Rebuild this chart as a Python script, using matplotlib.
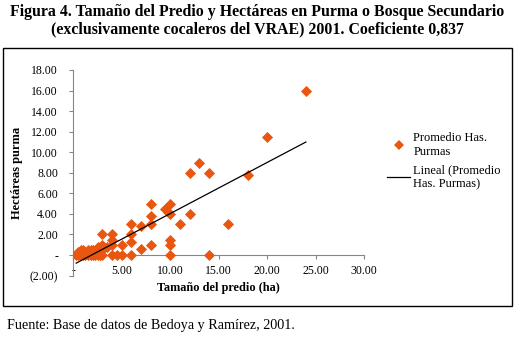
import numpy as np
import matplotlib
matplotlib.use("Agg")
import matplotlib.pyplot as plt
from matplotlib.ticker import FixedLocator, FuncFormatter
from matplotlib.lines import Line2D

# ---- data ----
predio_ha = [24, 20, 18, 13, 12, 14, 12, 16, 14, 11,
             10, 10, 9.5, 9.8, 10, 10, 10,
             8, 8, 8, 8, 7, 7,
             6, 6, 6, 6, 5, 5, 4.5,
             4, 4, 4, 4, 3, 3, 3,
             0.3, 0.5, 0.7, 1, 1.2, 1.5, 1.8, 2, 2.2, 2.5, 2.8,
             0.5, 0.8, 1, 1.2, 1.5, 1.8, 2, 2.2, 2.5, 2.5, 2.7, 3, 3.5, 2, 1]
purma_ha = [16, 11.5, 7.8, 9, 8, 8, 4, 3, 0, 3,
            5, 4, 4.5, 4.2, 1.5, 1, 0,
            5, 3.8, 3, 1, 2.8, 0.6,
            3, 2, 1.3, 0, 1, 0, 0,
            2, 1.5, 1, 0, 2, 1, 0,
            0, 0, 0, 0, 0, 0, 0, 0, 0, 0, 0,
            0.3, 0.5, 0.5, 0.3, 0.5, 0.5, 0.5, 0.3, 0.5, 0.8, 0.7, 0.5, 0.8, 0.2, 0.2]

x_ticks = [0, 5, 10, 15, 20, 25, 30]
y_ticks = [-2, 0, 2, 4, 6, 8, 10, 12, 14, 16, 18]

title_text = ("Figura 4. Tamaño del Predio y Hectáreas en Purma o Bosque Secundario\n"
              "(exclusivamente cocaleros del VRAE) 2001. Coeficiente 0,837")
source_text = "Fuente: Base de datos de Bedoya y Ramírez, 2001."
series_label = "Promedio Has.\nPurmas"
trend_label = "Lineal (Promedio\nHas. Purmas)"

# ---- style ----
plt.rcParams['font.family'] = ['Liberation Serif', 'DejaVu Serif']
ORANGE = '#E8560F'
GRAY = '#868686'

W, H = 515, 338
fig = plt.figure(figsize=(W / 100, H / 100), dpi=100)

# chart border box
fig.patches.append(plt.Rectangle((3 / W, 1 - 306 / H), 509 / W, (306 - 48) / H,
                                 transform=fig.transFigure, fill=False,
                                 edgecolor='black', linewidth=1.0))

ax = fig.add_axes([73.3 / W, 1 - 275.6 / H, (364 - 73.3) / W, (275.6 - 70) / H])

x = np.array(predio_ha, dtype=float)
y = np.array(purma_ha, dtype=float)
ax.scatter(x, y, marker='D', s=32, color=ORANGE, linewidths=0, zorder=3)

slope, intercept = np.polyfit(x, y, 1)
xl = np.array([x.min(), x.max()])
ax.plot(xl, slope * xl + intercept, color='black', linewidth=0.9, zorder=4)

ax.set_xlim(0, 30)
ax.set_ylim(-2, 18)
ax.xaxis.set_major_locator(FixedLocator(x_ticks))
ax.yaxis.set_major_locator(FixedLocator(y_ticks))


def fmt(v, pos=None):
    if abs(v) < 1e-9:
        return '-'
    if v < 0:
        return '(%.2f)' % abs(v)
    return '%.2f' % v


ax.xaxis.set_major_formatter(FuncFormatter(fmt))
ax.yaxis.set_major_formatter(FuncFormatter(fmt))

for s in ['top', 'right']:
    ax.spines[s].set_visible(False)
ax.spines['bottom'].set_position(('data', 0))
ax.spines['left'].set_color(GRAY)
ax.spines['bottom'].set_color(GRAY)
ax.spines['left'].set_linewidth(0.8)
ax.spines['bottom'].set_linewidth(0.8)
ax.tick_params(axis='both', direction='out', length=3, width=0.8, color=GRAY,
               labelsize=8.5, labelcolor='black')
ax.tick_params(axis='y', pad=8)
ax.tick_params(axis='x', pad=4)

ax.set_ylabel('Hectáreas purma', fontsize=9, fontweight='bold', labelpad=5)
ax.set_xlabel('Tamaño del predio (ha)', fontsize=8.8, fontweight='bold', labelpad=4)

handles = [Line2D([], [], marker='D', linestyle='none', color=ORANGE,
                  markersize=5.5, markeredgewidth=0),
           Line2D([], [], color='black', linewidth=0.9)]
fig.legend(handles, [series_label, trend_label], loc='upper left',
           bbox_to_anchor=(382 / W, 1 - 127 / H), frameon=False, fontsize=9,
           handlelength=1.85, handletextpad=0.25, labelspacing=0.5,
           borderaxespad=0)

fig.text(0.5, 1 - 4 / H, title_text, ha='center', va='top', fontsize=11.4,
         fontweight='bold', linespacing=1.1)
fig.text(7 / W, 1 - 326 / H, source_text, ha='left', va='center', fontsize=10.2)

fig.savefig('out.png', dpi=100)
